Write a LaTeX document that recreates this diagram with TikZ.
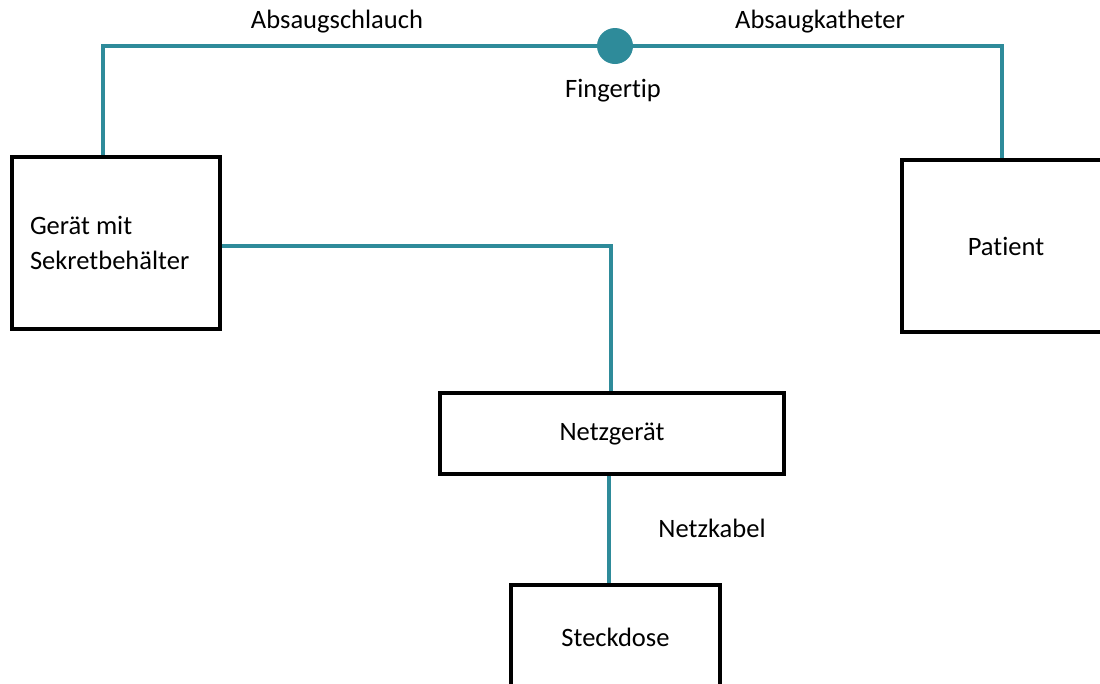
\documentclass[tikz,border=0pt]{standalone}
\usepackage{fontspec}
\setmainfont{Carlito}[Ligatures=NoCommon]
\definecolor{teal1}{RGB}{46,139,154}
\begin{document}
\begin{tikzpicture}[x=0.75pt,y=-0.75pt,
  box/.style={draw=black,line width=3pt,inner sep=0pt,font=\fontsize{19.9}{25}\selectfont},
  lbl/.style={inner sep=0pt,font=\fontsize{19.9}{25}\selectfont},
  wire/.style={draw=teal1,line width=2.4pt}]
\useasboundingbox (0,0) rectangle (1100,683);
\begin{scope}
\clip (0,0) rectangle (1100,683);
\node[box,minimum width=156pt,minimum height=129pt,text width=129pt,align=flush left,inner xsep=13.5pt] (geraet) at (116,243) {Gerät mit\\[1pt]Sekretbehälter};
\node[box,minimum width=156pt,minimum height=129pt] (patient) at (1006,246) {Patient};
\node[box,minimum width=258pt,minimum height=60.75pt] (netz) at (612,433.5) {Netzgerät};
\node[box,minimum width=156.75pt,minimum height=78pt] (steck) at (615.5,637) {Steckdose};
\node[circle,fill=teal1,inner sep=0pt,minimum size=27pt] (tip) at (615,46) {};
\coordinate (topL) at (103,46);
\coordinate (topR) at (1002,46);
\draw[wire] ([xshift=-9.75pt]geraet.north) -- (topL) -- (tip.west);
\draw[wire] (tip.east) -- (topR) -- ([xshift=-3pt]patient.north);
\draw[wire] ([yshift=-2.25pt]geraet.east) -| ([xshift=-0.75pt]netz.north);
\draw[wire] ([xshift=-2.25pt]netz.south) -- ([xshift=-2.25pt]netz.south |- steck.north);
\end{scope}
\node[lbl] (l1) at (337,22) {Absaugschlauch};
\node[lbl] (l2) at (820,22) {Absaugkatheter};
\node[lbl] (l3) at (613,91) {Fingertip};
\node[lbl] (l4) at (712,528) {Netzkabel};
\end{tikzpicture}
\end{document}
